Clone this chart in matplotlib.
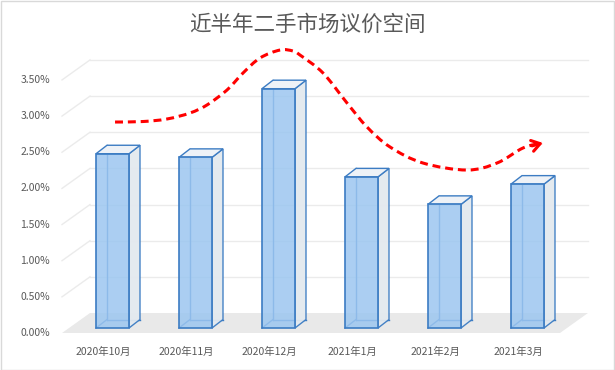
import matplotlib
matplotlib.use("Agg")
import matplotlib.pyplot as plt
from matplotlib.patches import Polygon, Rectangle, PathPatch
from matplotlib.path import Path

plt.rcParams['font.family'] = ['Noto Sans CJK SC', 'DejaVu Sans']

# ---- data ----
categories = ["2020年10月", "2020年11月", "2020年12月", "2021年1月", "2021年2月", "2021年3月"]
values = [2.41, 2.36, 3.31, 2.09, 1.71, 1.99]          # percent
yticks = [0.0, 0.5, 1.0, 1.5, 2.0, 2.5, 3.0, 3.5]
ytick_labels = ["0.00%", "0.50%", "1.00%", "1.50%", "2.00%", "2.50%", "3.00%", "3.50%"]
title = "近半年二手市场议价空间"

# hand-drawn trend annotation anchors (x in category units, y in percent)
trend_x = [0.139, 0.476, 0.765, 1.042, 1.247, 1.488, 1.681, 1.886, 2.127, 2.283,
           2.367, 2.645, 2.934, 3.175, 3.452, 3.849, 4.380, 4.741, 5.054, 5.283]
trend_y = [2.918, 2.925, 2.960, 3.043, 3.154, 3.361, 3.596, 3.804, 3.914, 3.900,
           3.845, 3.596, 3.181, 2.849, 2.573, 2.351, 2.254, 2.351, 2.559, 2.628]

# ---- layout / style constants ----
W, H, DPI = 615, 370, 100
PX_X = 83.0      # pixels per category
PX_Y = 72.3      # pixels per 1 %
X0_PX = 103.5    # pixel of category 0 (front plane)
Y0_PX = 333.0    # pixel (from top) of 0 % (front plane)

floor_dx, floor_dy = 28 / PX_X, 20 / PX_Y     # depth of floor
bar_fx, bar_fy = 9 / PX_X, 5 / PX_Y           # bar front-face offset into depth
bar_dx, bar_dy = 11 / PX_X, 8.5 / PX_Y        # bar depth
bar_w = 33 / PX_X

edge_c = "#3C7CC3"
front_c = "#9CC6F0"
side_c = "#E3E9EF"
top_c = "#EEF2F7"
grid_c = "#EBEBEB"
text_c = "#595959"

fig = plt.figure(figsize=(W / DPI, H / DPI), dpi=DPI)
ax = fig.add_axes([0, 0, 1, 1])
ax.set_xlim((0 - X0_PX) / PX_X, (W - X0_PX) / PX_X)
ax.set_ylim((Y0_PX - H) / PX_Y, Y0_PX / PX_Y)
ax.axis("off")

n = len(categories)
xl_wall, xr_wall = -0.5, n - 0.5

# floor
ax.add_patch(Polygon([(xl_wall, 0), (xr_wall, 0), (xr_wall + floor_dx, floor_dy),
                      (xl_wall + floor_dx, floor_dy)], closed=True,
                     facecolor="#E9E9E9", edgecolor="none", zorder=1))

# gridlines (side wall + back wall)
for t in yticks[1:]:
    ax.plot([xl_wall, xl_wall + floor_dx], [t, t + floor_dy], color=grid_c, lw=1.0, zorder=1)
    ax.plot([xl_wall + floor_dx, xr_wall + floor_dx], [t + floor_dy, t + floor_dy],
            color=grid_c, lw=1.0, zorder=1)

# tick labels
for t, lab in zip(yticks, ytick_labels):
    ax.text((50 - X0_PX) / PX_X, t, lab, ha="right", va="center", fontsize=7.5, color=text_c)
for i, c in enumerate(categories):
    ax.text(i, -19 / PX_Y, c, ha="center", va="center", fontsize=7.5, color=text_c)

# bars
for i, v in enumerate(values):
    xl = i + bar_fx - bar_w / 2
    xr = xl + bar_w
    y0 = bar_fy
    y1 = bar_fy + v
    ax.plot([xl + bar_dx, xl + bar_dx], [y0 + bar_dy, y1 + bar_dy], color=edge_c, lw=1.0, zorder=3)
    ax.plot([xl + bar_dx, xr + bar_dx], [y0 + bar_dy, y0 + bar_dy], color=edge_c, lw=1.0, zorder=3)
    ax.plot([xl, xl + bar_dx], [y0, y0 + bar_dy], color=edge_c, lw=1.0, zorder=3)
    ax.add_patch(Polygon([(xr, y0), (xr + bar_dx, y0 + bar_dy), (xr + bar_dx, y1 + bar_dy), (xr, y1)],
                         closed=True, facecolor=side_c, edgecolor=edge_c, lw=1.0, alpha=0.95, zorder=3))
    ax.add_patch(Polygon([(xl, y1), (xr, y1), (xr + bar_dx, y1 + bar_dy), (xl + bar_dx, y1 + bar_dy)],
                         closed=True, facecolor=top_c, edgecolor=edge_c, lw=1.0, zorder=3))
    ax.add_patch(Rectangle((xl, y0), bar_w, v, facecolor=front_c, edgecolor="none",
                           alpha=0.85, zorder=4))
    ax.add_patch(Rectangle((xl, y0), bar_w, v, facecolor="none", edgecolor=edge_c,
                           lw=1.2, zorder=5))

# trend annotation: smooth Catmull-Rom style cubic path through anchors (in pixel space
# to keep smoothness isotropic, then back to data units)
px = [(x, y * PX_Y / PX_X) for x, y in zip(trend_x, trend_y)]
verts = [px[0]]
codes = [Path.MOVETO]
m = len(px)
for k in range(m - 1):
    p0 = px[k - 1] if k > 0 else px[k]
    p1 = px[k]
    p2 = px[k + 1]
    p3 = px[k + 2] if k + 2 < m else px[k + 1]
    c1 = (p1[0] + (p2[0] - p0[0]) / 6, p1[1] + (p2[1] - p0[1]) / 6)
    c2 = (p2[0] - (p3[0] - p1[0]) / 6, p2[1] - (p3[1] - p1[1]) / 6)
    verts += [c1, c2, p2]
    codes += [Path.CURVE4] * 3
verts = [(x, y * PX_X / PX_Y) for x, y in verts]
ax.add_patch(PathPatch(Path(verts, codes), facecolor="none", edgecolor="#FF0000", lw=2.2,
                       linestyle=(0, (2.6, 1.6)), capstyle="butt", zorder=6))
ax.annotate("", xy=(trend_x[-1], trend_y[-1]), xytext=(trend_x[-2], trend_y[-2]),
            arrowprops=dict(arrowstyle="-|>,head_length=0.0001,head_width=0.0001",
                            color="none", lw=0), zorder=6)
ax.annotate("", xy=(trend_x[-1] + 0.01, trend_y[-1] + 0.001),
            xytext=(trend_x[-1] - 0.12, trend_y[-1] - 0.04),
            arrowprops=dict(arrowstyle="->,head_length=0.6,head_width=0.4",
                            color="#FF0000", lw=2.2, shrinkA=0, shrinkB=0), zorder=6)

# title
fig.text(0.5, 1 - 25 / H, title, ha="center", va="center", fontsize=15.5, color=text_c)

# chart border
fig.add_artist(Rectangle((0.5 / W, 0.5 / H), 1 - 1.5 / W, 1 - 1.5 / H, transform=fig.transFigure,
                         facecolor="none", edgecolor="#D9D9D9", lw=1.0))

fig.savefig("out.png", dpi=DPI)
